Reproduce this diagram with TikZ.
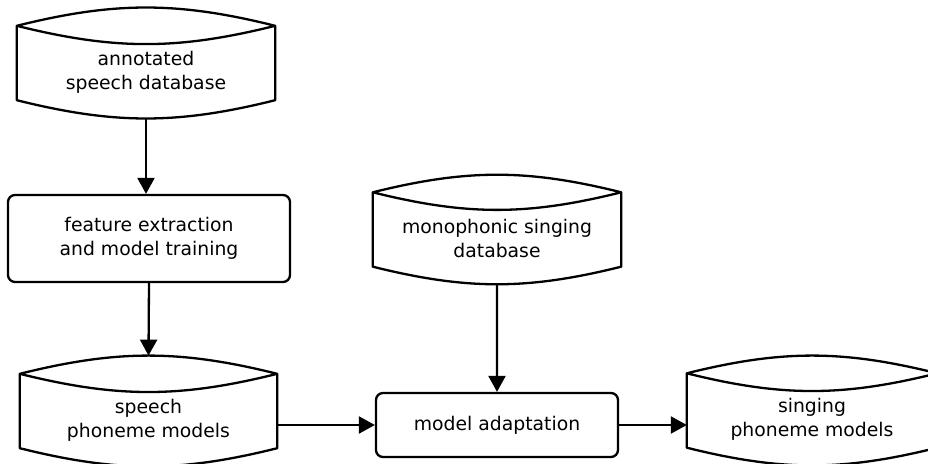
\documentclass[tikz,border=0pt]{standalone}
\usepackage{fontspec}
\setmainfont{DejaVu Sans}
\usetikzlibrary{arrows.meta,calc}
\tikzset{
  dbline/.style={line width=2.3pt, line join=round},
  dbtext/.style={inner sep=0pt, minimum height=56pt, align=center, font=\fontsize{18.8}{24}\selectfont},
  procbox/.style={draw, line width=2.3pt, rounded corners=7pt, align=center, inner sep=0pt, font=\fontsize{18.8}{24}\selectfont},
  conn/.style={line width=2.3pt, -{Triangle[length=16pt,width=17pt]}}
}
\newcommand{\dbnode}[5]{%
  \node[dbtext, minimum width=#4] (#1) at (#2,#3) {#5};
  \draw[dbline] ($(#1.north west)+(0,-18)$) coordinate (#1-nw)
    to[bend left=14] coordinate[pos=0.5] (#1-top) ($(#1.north east)+(0,-18)$) coordinate (#1-ne)
    to[bend left=14] (#1-nw) -- (#1.south west)
    to[bend right=14] coordinate[pos=0.5] (#1-bot) (#1.south east) -- (#1-ne);
}
\begin{document}
\begin{tikzpicture}[x=1pt,y=-1pt]
\useasboundingbox (0,0) rectangle (928,463);
\clip (0,0) rectangle (928,463);
\dbnode{asd}{146}{72}{258}{annotated\\ speech database}
\node[procbox, minimum width=282pt, minimum height=87pt] (feat) at (149,238.5) {feature extraction\\and model training};
\dbnode{spm}{148.5}{420}{257}{speech\\ phoneme models}
\dbnode{mono}{497}{238.5}{248}{monophonic singing\\database}
\node[procbox, minimum width=242pt, minimum height=64pt] (adapt) at (497,425) {model adaptation};
\dbnode{sing}{812}{419.5}{250}{singing\\ phoneme models}
\draw[conn] (asd-bot) -- (asd-bot |- feat.north);
\draw[conn] (feat.south) -- (spm-top);
\draw[conn] (mono-bot) -- (adapt.north);
\draw[conn] (spm.east |- adapt.west) -- (adapt.west);
\draw[conn] (adapt.east) -- (sing.west |- adapt.east);
\end{tikzpicture}
\end{document}
